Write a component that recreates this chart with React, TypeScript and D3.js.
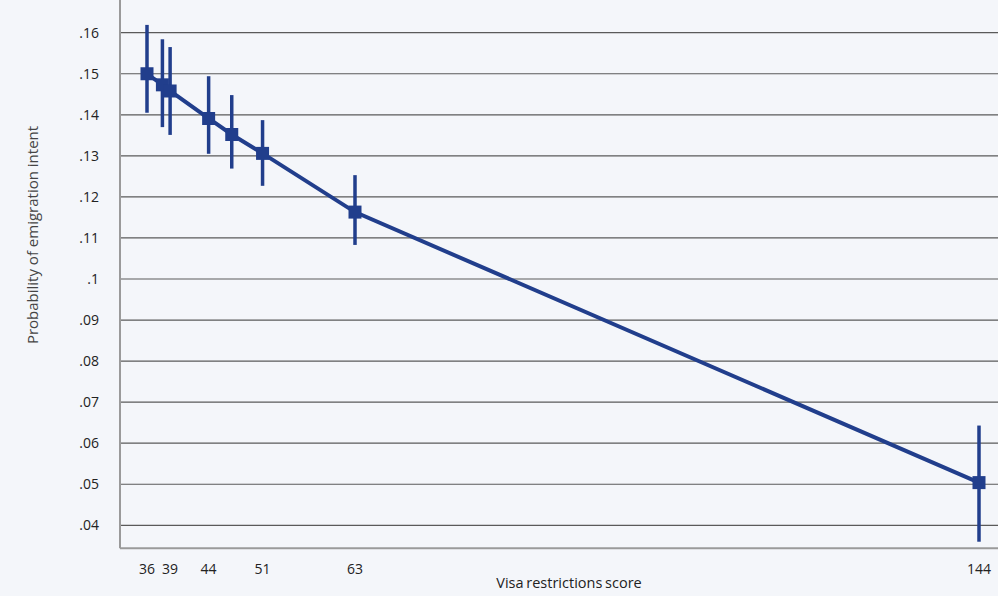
import React from "react";
import * as d3 from "d3";

const xValues = [36, 38, 39, 44, 47, 51, 63, 144];
const yValues = [0.15, 0.1473, 0.1458, 0.1391, 0.1352, 0.1306, 0.1163, 0.0504];
const yLower = [0.1405, 0.137, 0.1351, 0.1305, 0.1269, 0.1227, 0.1083, 0.036];
const yUpper = [0.1619, 0.1584, 0.1565, 0.1494, 0.1448, 0.1387, 0.1253, 0.0643];
const xTickValues = [36, 39, 44, 51, 63, 144];
const yTickValues = [0.04, 0.05, 0.06, 0.07, 0.08, 0.09, 0.1, 0.11, 0.12, 0.13, 0.14, 0.15, 0.16];
const xTitle = "Visa restrictions score";
const yTitle = "Probability of emigration intent";

const W = 998;
const H = 596;
const left = 120;
const bottom = 548.3;
const color = "#213e8c";
const font = "'Open Sans', 'Noto Sans', sans-serif";

export default function App() {
  const x = d3.scaleLinear().domain([36, 144]).range([147, 979]);
  const y = d3.scaleLinear().domain([0.04, 0.16]).range([525.3, 32.7]);
  const data = xValues.map((v, i) => ({ x: v, y: yValues[i], lo: yLower[i], hi: yUpper[i] }));
  const line = d3
    .line<{ x: number; y: number }>()
    .x((d) => x(d.x))
    .y((d) => y(d.y));
  const fmt = (v: number) => {
    const s = d3.format(".2f")(v).replace(/^0/, "");
    return s === ".10" ? ".1" : s;
  };
  return (
    <svg
      width={W}
      height={H}
      style={{ position: "absolute", left: 0, top: 0, display: "block", background: "#f4f6fa" }}
    >
      <rect x={0} y={0} width={W} height={H} fill="#f4f6fa" />
      {yTickValues.map((t) => (
        <g key={t}>
          <line x1={left} x2={W} y1={y(t)} y2={y(t)} stroke="#5a5a5a" strokeWidth={1.2} />
          <text
            x={99}
            y={y(t)}
            dy="0.35em"
            textAnchor="end"
            fontFamily={font}
            fontSize={14}
            fill="#222"
          >
            {fmt(t)}
          </text>
        </g>
      ))}
      <line x1={left} x2={left} y1={0} y2={bottom} stroke="#9a9a9a" strokeWidth={2} />
      <line x1={left} x2={W} y1={bottom} y2={bottom} stroke="#9a9a9a" strokeWidth={2} />
      {xTickValues.map((t) => (
        <text
          key={t}
          x={x(t)}
          y={574}
          textAnchor="middle"
          fontFamily={font}
          fontSize={14}
          fill="#222"
        >
          {t}
        </text>
      ))}
      <text
        x={569}
        y={588}
        textAnchor="middle"
        fontFamily={font}
        fontSize={14.5}
        wordSpacing={-1}
        fill="#222"
      >
        {xTitle}
      </text>
      <text
        transform={`translate(38,235) rotate(-90)`}
        textAnchor="middle"
        fontFamily={font}
        fontSize={15}
        fill="#444"
      >
        {yTitle}
      </text>
      <path d={line(data) || ""} fill="none" stroke={color} strokeWidth={4} />
      {data.map((d, i) => (
        <g key={i}>
          <line x1={x(d.x)} x2={x(d.x)} y1={y(d.lo)} y2={y(d.hi)} stroke={color} strokeWidth={3.5} />
          <rect x={x(d.x) - 6.5} y={y(d.y) - 6.5} width={13} height={13} fill={color} />
        </g>
      ))}
    </svg>
  );
}
